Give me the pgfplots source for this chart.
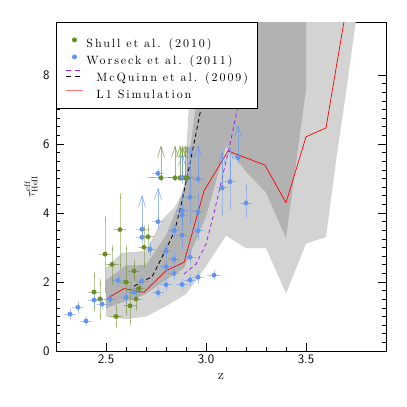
\documentclass[border=0pt]{standalone}
\usepackage{fontspec}
\usepackage{pgfplots}
\pgfplotsset{compat=1.18}
\usetikzlibrary{arrows.meta}
\newfontfamily\legfont{lmroman10-regular.otf}[LetterSpace=16]

\definecolor{shull}{RGB}{107,142,35}
\definecolor{wors}{RGB}{100,149,237}
\definecolor{mcq}{RGB}{160,32,240}
\definecolor{lightband}{RGB}{211,211,211}
\definecolor{darkband}{RGB}{178,178,178}

\begin{document}
\begin{tikzpicture}
\useasboundingbox (-56pt,-56pt) rectangle (351pt,351pt);
\begin{axis}[
  at={(0,0)}, anchor=south west,
  width=330pt, height=329pt, scale only axis,
  clip mode=individual,
  xmin=2.25, xmax=3.9, ymin=0, ymax=9.54,
  xtick={2.5,3.0,3.5}, minor x tick num=4,
  ytick={0,2,4,6,8}, minor y tick num=7,
  xticklabel style={/pgf/number format/.cd, fixed, fixed zerofill, precision=1},
  ticklabel style={font=\sffamily\fontsize{13}{15}\selectfont},
  yticklabel style={xshift=-3pt},
  /pgf/number format/assume math mode=true,
  major tick length=8pt, minor tick length=4.5pt,
  every tick/.style={black, line width=0.7pt},
  axis line style={line width=0.8pt},
  ylabel={\fontsize{11.5}{13}\selectfont $\tau^{\rm eff}_{\rm HeII}$},
  ylabel style={at={(axis description cs:-0.076,0.5)}, anchor=center},
  legend cell align=left,
  legend style={at={(0,1)}, anchor=north west, draw=black, line width=0.9pt,
    fill=white, inner xsep=9pt, inner ysep=8pt, row sep=-2pt, column sep=12pt,
    font=\legfont\fontsize{12}{14}\selectfont,
    nodes={inner sep=0pt, text height=17pt, text depth=2pt}},
]
\addlegendimage{only marks, mark=*, mark size=2pt, color=shull}
\addlegendentry{\hspace*{-10pt}Shull et al. (2010)}
\addlegendimage{only marks, mark=*, mark size=2pt, color=wors}
\addlegendentry{\hspace*{-10pt}Worseck et al. (2011)}
\addlegendimage{legend image code/.code={
  \draw[mcq, line width=1pt, dash pattern=on 5pt off 4pt] (0pt,3pt) -- (18pt,3pt);
  \draw[black, line width=1pt, dash pattern=on 5pt off 4pt] (0pt,-3pt) -- (18pt,-3pt);}}
\addlegendentry{McQuinn et al. (2009)}
\addlegendimage{red!55, line width=1pt}
\addlegendentry{L1 Simulation}

% light band
\addplot[fill=lightband, draw=none, forget plot] table {
x y
2.50 2.42
2.58 2.85
2.70 2.90
2.78 3.80
2.84 4.15
2.89 4.65
2.91 6.70
2.95 9.60
2.96 11
3.77 11
3.75 9.60
3.70 7.50
3.65 5.50
3.60 3.30
3.50 3.12
3.40 1.67
3.30 2.98
3.20 2.98
3.10 3.35
3.00 2.45
2.90 1.65
2.80 1.30
2.70 1.00
2.60 0.92
2.50 1.00
} -- cycle;

% dark band
\addplot[fill=darkband, draw=none, forget plot] table {
x y
2.50 2.05
2.60 2.48
2.70 2.49
2.80 3.35
2.86 4.20
2.90 4.96
2.94 6.70
2.97 8.00
3.00 9.60
3.01 11
3.50 11
3.50 7.60
3.40 3.27
3.30 4.60
3.20 5.20
3.10 5.95
3.00 3.90
2.89 2.40
2.80 2.06
2.69 1.62
2.60 1.45
2.50 1.24
} -- cycle;

% McQuinn et al. (2009)
\addplot[black, line width=0.8pt, dash pattern=on 4pt off 3pt, forget plot] coordinates {
(2.64,1.88) (2.68,2.01) (2.73,2.15) (2.76,2.49) (2.81,3.07) (2.845,3.51)
(2.88,4.35) (2.92,5.44) (2.97,6.89) (3.02,8.40) (3.07,10.0)};
\addplot[mcq, line width=0.8pt, dash pattern=on 4pt off 3pt, forget plot] coordinates {
(2.89,2.23) (2.95,2.52) (3.00,3.10) (3.04,4.00) (3.08,5.00) (3.12,6.00)
(3.16,7.10) (3.22,8.80) (3.26,10.0)};

% L1 simulation
\addplot[red, line width=0.7pt, forget plot] coordinates {
(2.507,1.53) (2.59,1.81) (2.69,1.70) (2.80,2.33) (2.89,2.57) (2.99,4.64)
(3.11,5.80) (3.295,5.39) (3.40,4.30) (3.50,6.21) (3.60,6.47) (3.70,9.90)};

% Shull et al. (2010) lower limits
\addplot[forget plot, shull, opacity=0.6, line width=0.8pt,
  -{Straight Barb[length=11pt, width=7pt]}, quiver={u=0, v=\thisrow{dy}}]
  table[x=x, y=y] {
x y dy
2.775 5.02 0.95
2.845 5.02 0.95
2.870 5.02 0.95
2.883 5.02 0.95
2.895 5.02 0.95
2.907 5.02 0.95
};
\addplot[forget plot, only marks, mark=*, mark size=2.2pt, color=shull,
  error bars/.cd, x dir=both, x explicit, y dir=both, y explicit,
  error bar style={line width=0.8pt, opacity=0.45},
  error mark options={line width=0.8pt, mark size=3pt, opacity=0.45}]
  table[x=x, y=y, x error=ex, y error plus=eyp, y error minus=eym] {
x y ex eyp eym
2.440 1.71 0.015 0.49 0.49
2.470 1.51 0.015 0.50 0.52
2.495 2.81 0.015 1.01 1.04
2.530 2.51 0.020 0.49 0.52
2.550 1.00 0.020 0.24 0.25
2.570 3.52 0.015 0.98 1.08
2.600 2.00 0.015 0.99 0.91
2.620 1.31 0.015 0.51 0.51
2.640 2.32 0.015 0.24 0.20
2.650 1.51 0.015 0.26 0.27
2.665 1.82 0.015 0.10 0.10
2.690 3.01 0.015 0.55 0.52
2.710 3.31 0.015 0.25 0.38
2.775 5.02 0.050 0.00 0.00
2.845 5.02 0.020 0.00 0.00
2.870 5.02 0.020 0.00 0.00
2.883 5.02 0.020 0.00 0.00
2.895 5.02 0.020 0.00 0.00
2.907 5.02 0.020 0.00 0.00
};

% Worseck et al. (2011) lower limits
\addplot[forget plot, wors, opacity=0.6, line width=0.8pt,
  -{Straight Barb[length=11pt, width=7pt]}, quiver={u=0, v=\thisrow{dy}}]
  table[x=x, y=y] {
x y dy
2.68 3.53 1.00
2.76 3.75 1.00
2.88 5.03 0.70
2.92 4.46 1.50
2.96 4.99 1.00
3.08 4.73 1.05
3.12 4.91 1.00
3.16 5.61 0.95
};
\addplot[forget plot, only marks, mark=*, mark size=2.2pt, color=wors,
  error bars/.cd, x dir=both, x explicit, y dir=both, y explicit,
  error bar style={line width=0.8pt, opacity=0.45},
  error mark options={line width=0.8pt, mark size=3pt, opacity=0.45}]
  table[x=x, y=y, x error=ex, y error plus=eyp, y error minus=eym] {
x y ex eyp eym
2.32 1.07 0.015 0.08 0.08
2.36 1.27 0.015 0.10 0.10
2.40 0.87 0.015 0.05 0.05
2.44 1.48 0.015 0.10 0.10
2.48 1.36 0.015 0.08 0.08
2.52 1.50 0.015 0.08 0.08
2.56 2.05 0.015 0.06 0.06
2.60 1.55 0.015 0.10 0.10
2.64 1.70 0.015 0.08 0.08
2.68 2.03 0.015 0.06 0.06
2.68 3.30 0.015 0.10 0.10
2.68 3.53 0.015 0.10 0.10
2.72 2.95 0.015 0.12 0.12
2.76 1.69 0.015 0.08 0.08
2.76 3.75 0.015 0.15 0.15
2.76 5.15 0.015 0.08 0.08
2.80 1.92 0.015 0.10 0.10
2.80 2.44 0.015 0.12 0.12
2.80 2.90 0.015 0.12 0.12
2.84 2.25 0.015 0.10 0.10
2.84 2.66 0.015 0.12 0.12
2.84 3.49 0.015 0.12 0.12
2.88 1.93 0.015 0.08 0.08
2.88 3.36 0.015 0.35 0.35
2.88 3.94 0.015 0.20 0.20
2.88 4.07 0.015 0.45 0.27
2.88 5.03 0.015 0.10 0.10
2.92 2.06 0.015 0.08 0.08
2.92 2.72 0.015 0.15 0.15
2.92 4.46 0.015 0.55 0.71
2.96 2.14 0.015 0.10 0.10
2.96 3.49 0.015 0.20 0.20
2.96 4.04 0.015 0.48 0.53
2.96 4.99 0.015 0.10 0.10
3.04 2.20 0.020 0.05 0.05
3.08 4.73 0.015 1.00 0.74
3.12 4.91 0.015 0.55 0.73
3.16 5.61 0.015 0.10 0.10
3.20 4.29 0.015 0.47 0.35
};
\node[anchor=center, font=\fontsize{14}{16}\selectfont] at (axis description cs:0.5,-0.076) {z};
\end{axis}
\end{tikzpicture}
\end{document}
